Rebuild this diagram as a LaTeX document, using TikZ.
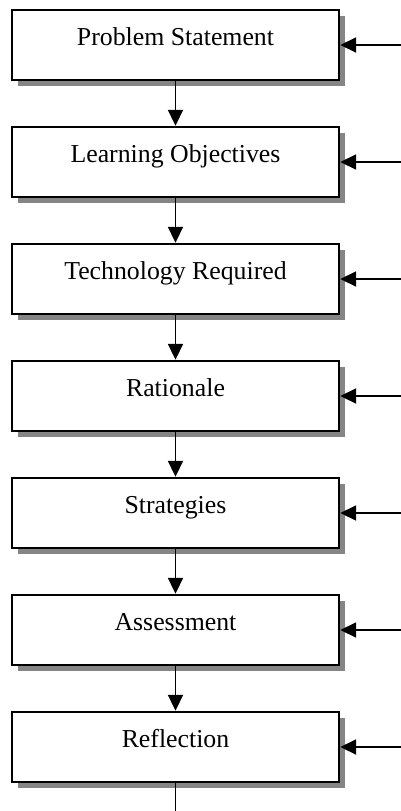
\documentclass[tikz,border=0pt]{standalone}
\usepackage{fontspec}
\setmainfont{Liberation Serif}
\usepackage{tikz}
\usetikzlibrary{arrows.meta,shadows}

\begin{document}
\begin{tikzpicture}[->,>={Triangle[length=8pt,width=7.5pt]},node distance=58.5pt,
            line width=0.9pt]
        \tikzstyle{stage}=[draw=black,fill=white,line width=1.2pt,inner sep=0pt,
            minimum width=163.5pt,text height=17.5pt,text depth=17.5pt,
            font=\fontsize{12.9pt}{15pt}\selectfont,
            drop shadow={shadow xshift=3pt,shadow yshift=-3pt,fill=black!48,opacity=1}]

        \useasboundingbox (0,0) rectangle (200.5pt,-405.5pt);

        \node[stage] (P) at (87.75pt,-22.5pt) {Problem Statement};
        \node[stage] (L) [below of=P] {Learning Objectives};
        \node[stage] (T) [below of=L] {Technology Required};
        \node[stage] (R) [below of=T] {Rationale};
        \node[stage] (S) [below of=R] {Strategies};
        \node[stage] (A) [below of=S] {Assessment};
        \node[stage] (F) [below of=A] {Reflection};

        \path (P) edge (L);
        \path (L) edge (T);
        \path (T) edge (R);
        \path (R) edge (S);
        \path (S) edge (A);
        \path (A) edge (F);

        % inputs from the right
        \coordinate (inP) at ([xshift=31pt]P.east);
        \coordinate (inL) at ([xshift=31pt]L.east);
        \coordinate (inT) at ([xshift=31pt]T.east);
        \coordinate (inR) at ([xshift=31pt]R.east);
        \coordinate (inS) at ([xshift=31pt]S.east);
        \coordinate (inA) at ([xshift=31pt]A.east);
        \coordinate (inF) at ([xshift=31pt]F.east);
        \path (inP) edge (P);
        \path (inL) edge (L);
        \path (inT) edge (T);
        \path (inR) edge (R);
        \path (inS) edge (S);
        \path (inA) edge (A);
        \path (inF) edge (F);

        \coordinate (out) at ([yshift=-15pt]F.south);
        \draw[-] (F) -- (out);
    \end{tikzpicture}
\end{document}
